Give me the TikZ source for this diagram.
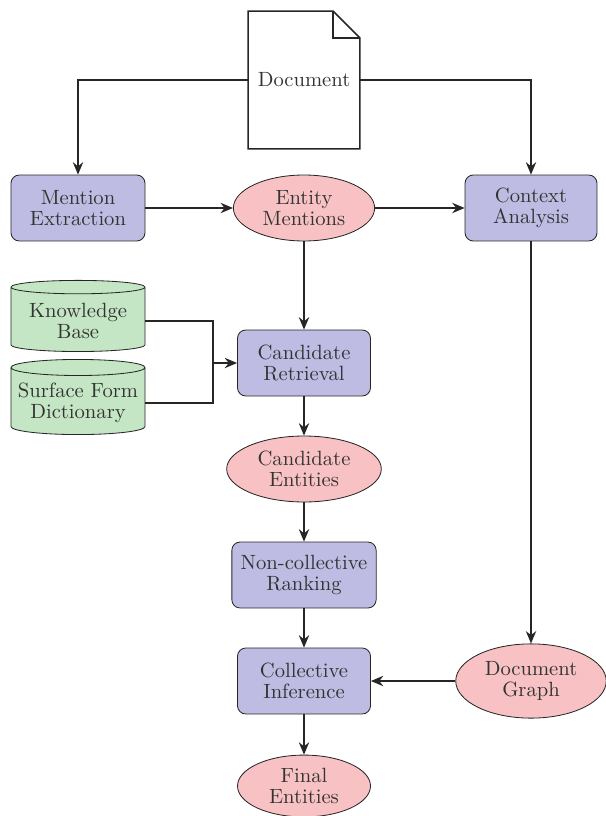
\documentclass[tikz,border=0pt]{standalone}
\usetikzlibrary{shapes.geometric,arrows.meta}
\definecolor{procfill}{RGB}{190,188,226}
\definecolor{datafill}{RGB}{248,194,196}
\definecolor{storefill}{RGB}{196,230,196}
\begin{document}
\begin{tikzpicture}
[x=0.485pt,y=-0.485pt,
 every node/.style=
   {align=center,text=black!80,font=\fontsize{10}{10.5}\selectfont},
 proc/.style={rectangle,rounded corners=4pt,draw=black!85,fill=procfill,
   minimum height=32pt,inner xsep=3pt},
 data/.style={ellipse,draw=black!85,fill=datafill,inner sep=0pt,
   minimum height=32pt},
 store/.style={cylinder,shape border rotate=90,aspect=0.12,draw=black!85,
   fill=storefill,minimum width=65pt,minimum height=34.5pt},
 link/.style={-{Stealth[length=6pt,width=5pt]},thick,black!85}]
\useasboundingbox (0,0) rectangle (606,816);

% document
\node [minimum width=53.8pt,minimum height=66.4pt] (doc) at (304,80) {Document};
\draw [thick,black!85] (doc.north west) -- ([xshift=-13pt]doc.north east)
  -- ([yshift=-13pt]doc.north east) -- (doc.south east) -- (doc.south west) -- cycle;
\draw [thick,black!85] ([xshift=-13pt]doc.north east) |- ([yshift=-13pt]doc.north east);

% first row
\node [proc,minimum width=65pt] (extract) at (78,208) {Mention\\Extraction};
\node [data,minimum width=68.5pt] (mentions) at (304,208) {Entity\\Mentions};
\node [proc,minimum width=64pt] (context) at (531,208) {Context\\Analysis};

% resources
\node [store] (kb) at (78,321) {Knowledge\\Base};
\node [store] (sfd) at (78,403) {Surface Form\\Dictionary};
\coordinate (join) at (213,363);

% main chain
\node [proc,minimum width=64.5pt] (retrieval) at (304,363) {Candidate\\Retrieval};
\node [data,minimum width=75pt] (candidates) at (304,469) {Candidate\\Entities};
\node [proc,minimum width=70pt] (ranking) at (304,575) {Non-collective\\Ranking};
\node [proc,minimum width=64.5pt] (inference) at (304,681) {Collective\\Inference};
\node [data,minimum width=64.5pt,minimum height=30pt] (final) at (304,786) {Final\\Entities};
\node [data,minimum width=73pt,minimum height=36pt] (graph) at (531,681) {Document\\Graph};

\draw [link] (doc.west) -| (extract.north);
\draw [link] (doc.east) -| (context.north);
\draw [link] (extract) -- (mentions);
\draw [link] (mentions) -- (context);
\draw [link] (mentions) -- (retrieval);
\draw [thick,black!85] (kb.east) -| (join);
\draw [thick,black!85] (sfd.east) -| (join);
\draw [link] (join) -- (retrieval.west);
\draw [link] (retrieval) -- (candidates);
\draw [link] (candidates) -- (ranking);
\draw [link] (ranking) -- (inference);
\draw [link] (inference) -- (final);
\draw [link] (context) -- (graph);
\draw [link] (graph) -- (inference);
\end{tikzpicture}
\end{document}
